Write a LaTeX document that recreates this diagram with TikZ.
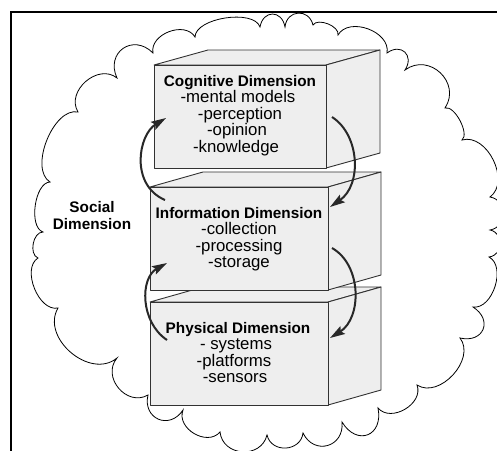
\documentclass[tikz,border=0pt]{standalone}
\usepackage{fontspec}
\setmainfont{Liberation Sans}
\usetikzlibrary{arrows.meta}
\definecolor{boxfill}{RGB}{238,238,238}
\definecolor{boxedge}{RGB}{50,50,50}
\definecolor{arrowc}{RGB}{40,40,40}
\begin{document}
\begin{tikzpicture}[x=1pt,y=-1pt,
  cb/.style={bend left=80,looseness=#1},
  cloudline/.style={draw=black,line width=0.8pt,fill=white},
  boxface/.style={draw=boxedge,line width=0.9pt,fill=boxfill,line join=round},
  flow/.style={draw=arrowc,line width=2pt,-{Stealth[length=15pt,width=9pt,inset=2.5pt]}},
  bt/.style={anchor=base,inner sep=0pt,font=\fontsize{15.3}{18}\selectfont\bfseries},
  rt/.style={anchor=base,inner sep=0pt,font=\fontsize{16.8}{18}\selectfont},
  frameline/.style={draw=black,line width=2.2pt}]
\useasboundingbox (0,0) rectangle (497,450);
\clip (0,0) rectangle (497,450);
\fill[white] (0,0) rectangle (497,450);
% cloud (social dimension)
\draw[cloudline] (117,78)
 to[cb=1.65] (153,53)
 to[cb=1.1] (195,37)
 to[cb=0.75] (260,27)
 to[cb=1.8] (285,27)
 to[cb=1.6] (313,25)
 to[cb=0.85] (338,35)
 to[cb=1.07] (387,53)
 to[cb=1.8] (405,70)
 to[cb=1.4] (445,108)
 to[cb=0.7] (462,140)
 to[cb=1.05] (490,197)
 to[cb=1.4] (490,230)
 to[cb=1.4] (489,257)
 to[cb=0.97] (473,307)
 to[cb=1.85] (460,338)
 to[cb=1.07] (417,385)
 to[cb=1.13] (378,408)
 to[cb=1.9] (342,422)
 to[cb=1.6] (303,433)
 to[cb=1.35] (267,435)
 to[cb=1.35] (220,432)
 to[cb=1.17] (183,410)
 to[cb=1.65] (148,395)
 to[cb=1.3] (117,358)
 to[cb=1.15] (58,308)
 to[cb=0.94] (38,258)
 to[cb=0.97] (43,232)
 to[cb=0.78] (50,182)
 to[cb=0.85] (78,112)
 to[cb=1.2] (117,78) -- cycle;
% physical box
\path[boxface] (150,302) -- (203,287) -- (381,287) -- (328,302) -- cycle;
\path[boxface] (328,302) -- (381,287) -- (381,390) -- (328,405) -- cycle;
\path[boxface] (150,302) rectangle (328,405);
% information box
\path[boxface] (150,187) -- (203,172) -- (381,172) -- (328,187) -- cycle;
\path[boxface] (328,187) -- (381,172) -- (381,275) -- (328,290) -- cycle;
\path[boxface] (150,187) rectangle (328,290);
% cognitive box
\path[boxface] (154,65) -- (208,50) -- (380,50) -- (326,65) -- cycle;
\path[boxface] (326,65) -- (380,50) -- (380,153) -- (326,168) -- cycle;
\path[boxface] (154,65) rectangle (326,168);
% texts
\node[bt] (cogt) at (240,86) {Cognitive Dimension};
\node[rt] (cog1) at (238,102.5) {-mental models};
\node[rt] (cog2) at (240,119) {-perception};
\node[rt] (cog3) at (237,135.5) {-opinion};
\node[rt] (cog4) at (236,152) {-knowledge};
\node[bt] (inft) at (239,218) {Information Dimension};
\node[rt] (inf1) at (239,234.5) {-collection};
\node[rt] (inf2) at (239,251) {-processing};
\node[rt] (inf3) at (239,267.5) {-storage};
\node[bt] (phyt) at (238,333) {Physical Dimension};
\node[rt] (phy1) at (236,349.5) {- systems};
\node[rt] (phy2) at (234,366) {-platforms};
\node[rt] (phy3) at (235,382.5) {-sensors};
\node[bt] (soc1) at (92,212) {Social};
\node[bt] (soc2) at (92,229) {Dimension};
% arrows
\coordinate (a1s) at (165,200); \coordinate (a1e) at (166,118);
\coordinate (a2s) at (332,117); \coordinate (a2e) at (330,207);
\coordinate (a3s) at (167,340); \coordinate (a3e) at (167,263);
\coordinate (a4s) at (332,248); \coordinate (a4e) at (330,338);
\draw[flow] (a1s) .. controls (130,185) and (138,135) .. (a1e);
\draw[flow] (a2s) .. controls (360,135) and (362,185) .. (a2e);
\draw[flow] (a3s) .. controls (140,322) and (140,278) .. (a3e);
\draw[flow] (a4s) .. controls (362,265) and (362,318) .. (a4e);
% frame
\draw[frameline] (11,470) -- (11,12) -- (520,12);
\end{tikzpicture}
\end{document}
